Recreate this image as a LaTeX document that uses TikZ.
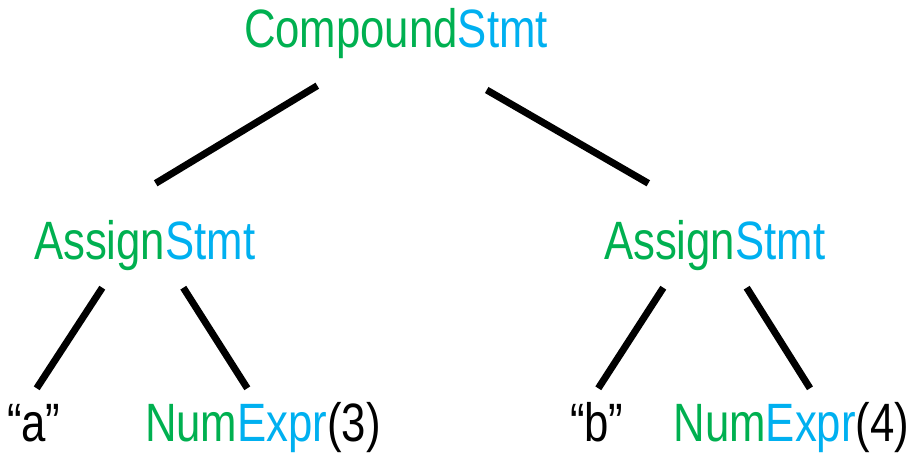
\documentclass[tikz,border=0pt]{standalone}
\usepackage{fontspec}
\setmainfont[FakeStretch=0.81]{Liberation Sans}
\definecolor{kwgreen}{RGB}{0,176,80}
\definecolor{kwblue}{RGB}{0,176,240}
\tikzset{
  lbl/.style={anchor=base west, inner sep=0pt, outer sep=0pt,
    font=\fontsize{54}{62}\selectfont, text=black},
  edge/.style={line width=7pt, black, line cap=butt}
}
\newcommand{\gr}[1]{\textcolor{kwgreen}{#1}}
\newcommand{\bl}[1]{\textcolor{kwblue}{#1}}
\begin{document}
\begin{tikzpicture}[x=1pt,y=-1pt]
\useasboundingbox (0,0) rectangle (910,454);
% nodes
\node[lbl] (cs) at (244,48) {\gr{Compound}\bl{Stmt}};
\node[lbl] (as1) at (34,260) {\gr{Assign}\bl{Stmt}};
\node[lbl] (as2) at (604,259.5) {\gr{Assign}\bl{Stmt}};
\node[lbl] (a) at (7,441) {“a”};
\node[lbl] (n3) at (145,441) {\gr{Num}\bl{Expr}(3)};
\node[lbl] (b) at (570,441) {“b”};
\node[lbl] (n4) at (673.5,441) {\gr{Num}\bl{Expr}(4)};
% connector end points
\coordinate (cs-l) at (317.3,85.7);
\coordinate (cs-r) at (486.7,90);
\coordinate (as1-t) at (155.7,183.3);
\coordinate (as2-t) at (648.3,183.3);
\coordinate (as1-l) at (102.3,287.7);
\coordinate (as1-r) at (183.3,287.7);
\coordinate (as2-l) at (663.3,287.7);
\coordinate (as2-r) at (746.7,287.7);
\coordinate (a-t) at (36.7,388.3);
\coordinate (n3-t) at (247.3,388.3);
\coordinate (b-t) at (598.3,388.3);
\coordinate (n4-t) at (810,388.3);
% connectors
\draw[edge] (cs-l) -- (as1-t);
\draw[edge] (cs-r) -- (as2-t);
\draw[edge] (as1-l) -- (a-t);
\draw[edge] (as1-r) -- (n3-t);
\draw[edge] (as2-l) -- (b-t);
\draw[edge] (as2-r) -- (n4-t);
\end{tikzpicture}
\end{document}
